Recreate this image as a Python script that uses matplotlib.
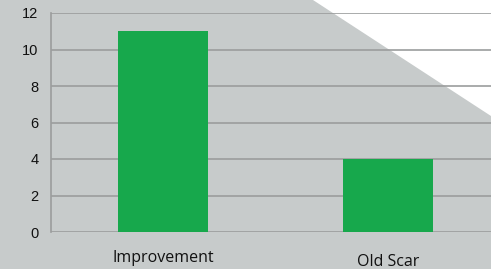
import matplotlib
matplotlib.use('Agg')
import matplotlib.pyplot as plt
from matplotlib.patches import Polygon
from matplotlib.transforms import ScaledTranslation

categories = ['Improvement', 'Old Scar']
values = [11, 4]
yticks = [0, 2, 4, 6, 8, 10, 12]

bg = '#c7cbcb'
green = '#17a84c'
grid = '#9b9d9d'

fig = plt.figure(figsize=(4.91, 2.69), dpi=100, facecolor=bg)

# white triangle in the top right corner
tri = Polygon([(313 / 491, 1.0), (1.0, 1.0), (1.0, 1 - 116 / 269)],
              closed=True, transform=fig.transFigure, facecolor='white',
              edgecolor='none', zorder=0)
fig.patches.append(tri)

ax = fig.add_axes([51 / 491, 37 / 269, 1 - 51 / 491, 219 / 269])
ax.set_zorder(2)
ax.set_facecolor('none')
x = range(len(categories))
ax.bar(x, values, width=0.4, color=green, zorder=3)

ax.set_xlim(-0.5, 1.456)
ax.set_ylim(0, 12)
ax.set_yticks(yticks)
ax.set_yticklabels([str(v) for v in yticks], family='Liberation Sans',
                   fontsize=10.5, color='#111111')
ax.set_xticks(list(x))
ax.set_xticklabels(categories, family='Open Sans', fontsize=11.5, color='#111111')
ax.tick_params(axis='both', length=0)
ax.tick_params(axis='x', pad=13)
ax.tick_params(axis='y', pad=9)

ax.yaxis.grid(True, color=grid, linewidth=1.2, zorder=1)
ax.set_axisbelow(True)
for s in ['top', 'right', 'bottom']:
    ax.spines[s].set_visible(False)
ax.spines['left'].set_color(grid)
ax.spines['left'].set_linewidth(1.2)

# second label sits a bit lower
lab = ax.get_xticklabels()[1]
lab.set_transform(lab.get_transform() + ScaledTranslation(0, -3 / 72, fig.dpi_scale_trans))

fig.savefig('out.png', dpi=100, facecolor=bg)
